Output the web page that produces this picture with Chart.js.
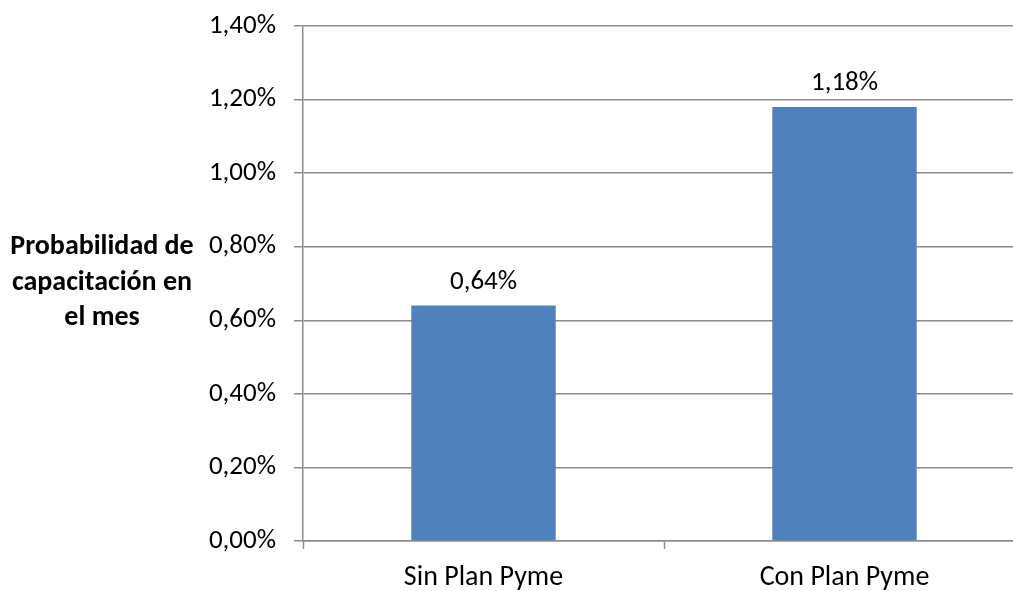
<!DOCTYPE html>
<html lang="es">
<head>
    <meta charset="UTF-8">
    <title>Probabilidad de capacitación en el mes</title>
    <style>
        html, body {
            margin: 0;
            padding: 0;
            background: #FFFFFF;
            overflow: hidden;
        }
        .chart-box {
            width: 1040px;
            height: 591px;
        }
    </style>
    <script src="https://cdn.jsdelivr.net/npm/chart.js"></script>
</head>
<body>
    <div class="chart-box">
        <canvas id="pymeChart" width="1040" height="591"></canvas>
    </div>

    <script>
        // Data
        const categories = ['Sin Plan Pyme', 'Con Plan Pyme'];
        const probValues = [0.64, 1.18];       // percent
        const yTickValues = [0, 0.2, 0.4, 0.6, 0.8, 1.0, 1.2, 1.4];
        const yTitleLines = ['Probabilidad de', 'capacitación en', 'el mes'];

        const FONT = "Carlito, Calibri, Lato, sans-serif";
        const fmtPct = v => v.toFixed(2).replace('.', ',') + '%';

        // value labels above each bar
        const barLabels = {
            id: 'barLabels',
            afterDatasetsDraw(chart) {
                const ctx = chart.ctx;
                const meta = chart.getDatasetMeta(0);
                ctx.save();
                ctx.font = '27px ' + FONT;
                ctx.fillStyle = '#000000';
                ctx.textAlign = 'center';
                ctx.textBaseline = 'alphabetic';
                meta.data.forEach((bar, i) => {
                    ctx.fillText(fmtPct(probValues[i]), bar.x, bar.y - 17);
                });
                ctx.restore();
            }
        };

        // horizontal y-axis title on the left
        const sideTitle = {
            id: 'sideTitle',
            afterDraw(chart) {
                const ctx = chart.ctx;
                ctx.save();
                ctx.font = 'bold 28px ' + FONT;
                ctx.fillStyle = '#000000';
                ctx.textAlign = 'center';
                ctx.textBaseline = 'alphabetic';
                yTitleLines.forEach((line, i) => {
                    ctx.fillText(line, 102, 254 + i * 35.5);
                });
                ctx.restore();
            }
        };

        // keep the plot area where the original has it (no label overhang padding)
        const noOverhang = scale => {
            scale.paddingTop = 0;
            scale.paddingBottom = 0;
            scale.paddingLeft = 0;
            scale.paddingRight = 0;
        };

        const ctx = document.getElementById('pymeChart').getContext('2d');
        const chart = new Chart(ctx, {
            type: 'bar',
            data: {
                labels: categories,
                datasets: [{
                    data: probValues,
                    backgroundColor: '#4F81BD',
                    borderWidth: 0,
                    barPercentage: 0.4,
                    categoryPercentage: 1.0
                }]
            },
            options: {
                responsive: false,
                animation: false,
                devicePixelRatio: 1,
                // canvas is wider than the window: plot runs past the right edge, as in the original
                layout: { padding: { top: 26, right: 15, left: 0, bottom: 0 } },
                plugins: {
                    legend: { display: false },
                    tooltip: { enabled: false }
                },
                scales: {
                    x: {
                        grid: {
                            offset: true,
                            drawOnChartArea: false,
                            drawTicks: true,
                            tickLength: 8,
                            tickColor: '#8C8C8C',
                            tickWidth: 1.5
                        },
                        border: { color: '#8C8C8C', width: 1.5 },
                        ticks: {
                            color: '#000000',
                            font: { family: FONT, size: 28 },
                            padding: 12
                        },
                        afterFit(scale) {
                            scale.height = 50;
                            noOverhang(scale);
                        }
                    },
                    y: {
                        min: 0,
                        max: 1.4,
                        afterBuildTicks(scale) {
                            scale.ticks = yTickValues.map(v => ({ value: v }));
                        },
                        grid: {
                            color: '#8C8C8C',
                            lineWidth: 1.5,
                            tickLength: 9,
                            tickColor: '#8C8C8C'
                        },
                        border: { color: '#8C8C8C', width: 1.5 },
                        ticks: {
                            color: '#000000',
                            font: { family: FONT, size: 27 },
                            padding: 18,
                            callback: v => fmtPct(v)
                        },
                        afterFit(scale) {
                            scale.width = 303;
                            noOverhang(scale);
                        }
                    }
                }
            },
            plugins: [barLabels, sideTitle]
        });
    </script>
</body>
</html>
